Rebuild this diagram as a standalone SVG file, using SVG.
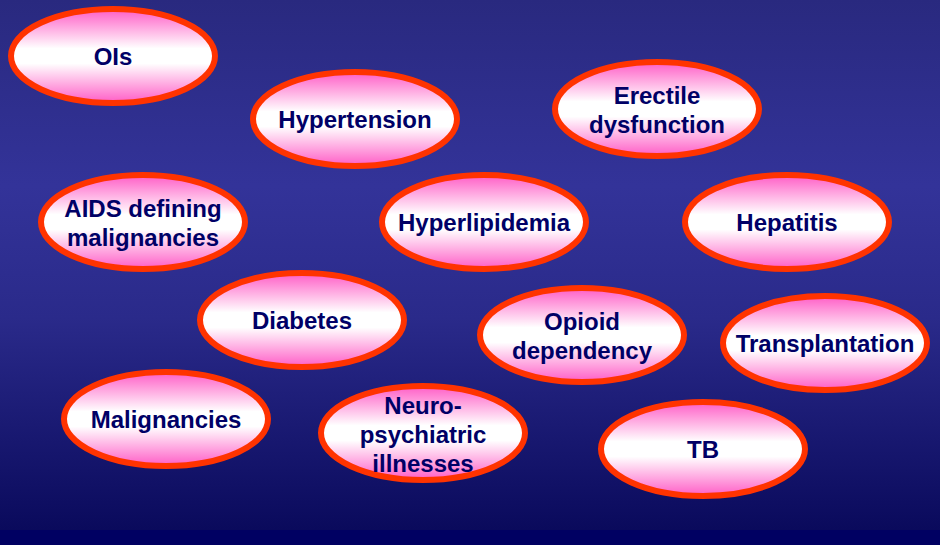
<svg xmlns="http://www.w3.org/2000/svg" width="940" height="545" viewBox="0 0 940 545">
<defs>
<linearGradient id="bg" x1="0" y1="0" x2="0" y2="1">
<stop offset="0" stop-color="#29297f"/>
<stop offset="0.35" stop-color="#333399"/>
<stop offset="0.6" stop-color="#2a2a8a"/>
<stop offset="1" stop-color="#0a0a5c"/>
</linearGradient>
<linearGradient id="pk" x1="0" y1="0" x2="0" y2="1">
<stop offset="0" stop-color="#ff5cc6"/>
<stop offset="0.42" stop-color="#ffffff"/>
<stop offset="0.58" stop-color="#ffffff"/>
<stop offset="1" stop-color="#ff5cc6"/>
</linearGradient>
</defs>
<style>
.n ellipse{fill:url(#pk);stroke:#ff3300;stroke-width:6}
.n text{font-family:"Liberation Sans",Arial,sans-serif;font-weight:bold;font-size:24px;fill:#000066;text-anchor:middle}
</style>
<rect x="0" y="0" width="940" height="530" fill="url(#bg)"/>
<rect x="0" y="530" width="940" height="15" fill="#000062"/>
<g id="connectors"/>
<g id="ois" class="n"><ellipse cx="113" cy="56" rx="102" ry="47"/><text x="113" y="65">OIs</text></g>
<g id="hypertension" class="n"><ellipse cx="355" cy="119" rx="102" ry="47"/><text x="355" y="128">Hypertension</text></g>
<g id="erectile" class="n"><ellipse cx="657" cy="109" rx="102" ry="47"/><text x="657" y="104">Erectile</text><text x="657" y="133">dysfunction</text></g>
<g id="aids" class="n"><ellipse cx="143" cy="222" rx="102" ry="47"/><text x="143" y="217">AIDS defining</text><text x="143" y="246">malignancies</text></g>
<g id="hyperlipidemia" class="n"><ellipse cx="484" cy="222" rx="102" ry="47"/><text x="484" y="231">Hyperlipidemia</text></g>
<g id="hepatitis" class="n"><ellipse cx="787" cy="222" rx="102" ry="47"/><text x="787" y="231">Hepatitis</text></g>
<g id="diabetes" class="n"><ellipse cx="302" cy="320" rx="102" ry="47"/><text x="302" y="329">Diabetes</text></g>
<g id="opioid" class="n"><ellipse cx="582" cy="335" rx="102" ry="47"/><text x="582" y="330">Opioid</text><text x="582" y="359">dependency</text></g>
<g id="transplantation" class="n"><ellipse cx="825" cy="343" rx="102" ry="47"/><text x="825" y="352">Transplantation</text></g>
<g id="malignancies" class="n"><ellipse cx="166" cy="419" rx="102" ry="47"/><text x="166" y="428">Malignancies</text></g>
<g id="neuro" class="n"><ellipse cx="423" cy="433" rx="102" ry="47"/><text x="423" y="414">Neuro-</text><text x="423" y="443">psychiatric</text><text x="423" y="472">illnesses</text></g>
<g id="tb" class="n"><ellipse cx="703" cy="449" rx="102" ry="47"/><text x="703" y="458">TB</text></g>
</svg>
